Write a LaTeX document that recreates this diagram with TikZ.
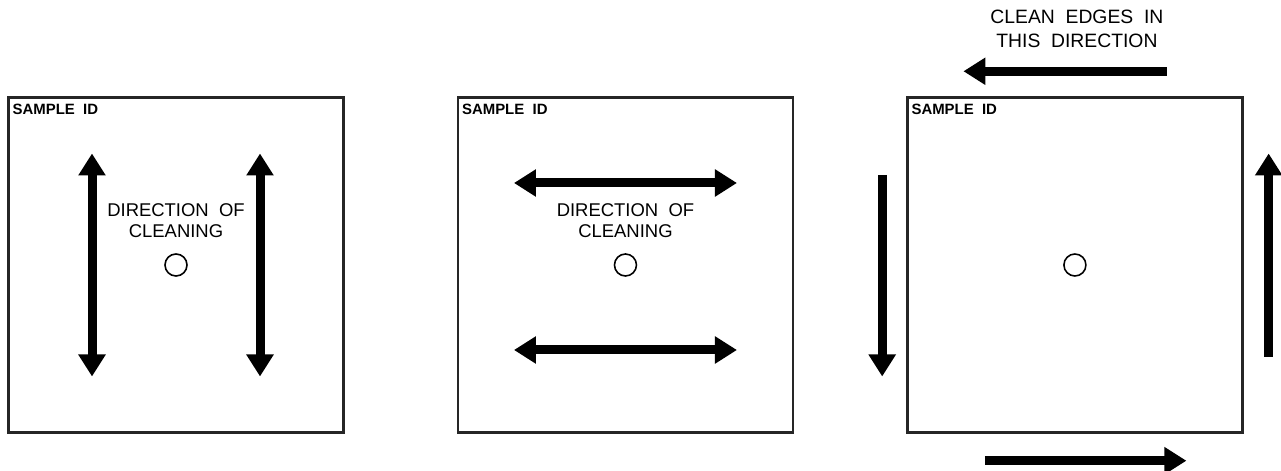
\documentclass[tikz,border=0pt]{standalone}
\usepackage{fontspec}
\setmainfont{Liberation Sans}
\usepackage{tikz}
\usetikzlibrary{arrows.meta, positioning, calc}

\begin{document}
\begin{tikzpicture}[%
  node distance=2.24cm,%
  panel/.style={rectangle, draw=black!85, line width=1.4pt, minimum width=6.7cm, minimum height=6.7cm, inner sep=0pt},%
  sampleid/.style={anchor=north west, inner sep=0pt, font=\bfseries\fontsize{8.5}{9}\selectfont},%
  hole/.style={circle, draw, line width=0.9pt, minimum size=0.44cm, inner sep=0pt},%
  note/.style={align=center, inner sep=0pt, font=\fontsize{10.5}{12}\selectfont},%
  bignote/.style={align=center, inner sep=0pt, font=\fontsize{11}{13.6}\selectfont},%
  onearrow/.style={-{Triangle[width=5.2mm,length=4.4mm]}, line width=1.8mm},%
  twoarrow/.style={{Triangle[width=5.2mm,length=4.4mm]}-{Triangle[width=5.2mm,length=4.4mm]}, line width=1.8mm}%
]
  \useasboundingbox (0,0) rectangle (25.62,-9.42);
  % the three sample panels
  \node[panel] (p1) at (3.52,-5.30) {};
  \node[panel, right=of p1] (p2) {};
  \node[panel, right=of p2] (p3) {};
  \foreach \p in {p1,p2,p3} {
    \node[sampleid] at ([shift={(0.1,-0.15)}]\p.north west) {SAMPLE\ \ ID};
    \node[hole] (\p c) at (\p.center) {};
  }
  % panel 1: up and down
  \node[note] (t1) at ([yshift=0.89cm]p1.center) {DIRECTION\ \ OF\\CLEANING};
  \draw[twoarrow] ([shift={(-1.68,2.23)}]p1.center) -- ([shift={(-1.68,-2.23)}]p1.center);
  \draw[twoarrow] ([shift={(1.68,2.23)}]p1.center) -- ([shift={(1.68,-2.23)}]p1.center);
  % panel 2: side to side
  \node[note] (t2) at ([yshift=0.89cm]p2.center) {DIRECTION\ \ OF\\CLEANING};
  \draw[twoarrow] ([shift={(-2.23,1.64)}]p2.center) -- ([shift={(2.23,1.64)}]p2.center);
  \draw[twoarrow] ([shift={(-2.23,-1.70)}]p2.center) -- ([shift={(2.23,-1.70)}]p2.center);
  % panel 3: round the edges
  \node[bignote] (t3) at ([shift={(0.04,1.34)}]p3.north) {CLEAN\ \ EDGES\ \ IN\\THIS\ \ DIRECTION};
  \draw[onearrow] ([shift={(1.84,0.5)}]p3.north) -- ([shift={(-2.23,0.5)}]p3.north);
  \draw[onearrow] ([shift={(-0.48,1.80)}]p3.west) -- ([shift={(-0.48,-2.23)}]p3.west);
  \draw[onearrow] ([shift={(-1.80,-0.54)}]p3.south) -- ([shift={(2.23,-0.54)}]p3.south);
  \draw[onearrow] ([shift={(0.5,-1.84)}]p3.east) -- ([shift={(0.5,2.23)}]p3.east);
\end{tikzpicture}
\end{document}
